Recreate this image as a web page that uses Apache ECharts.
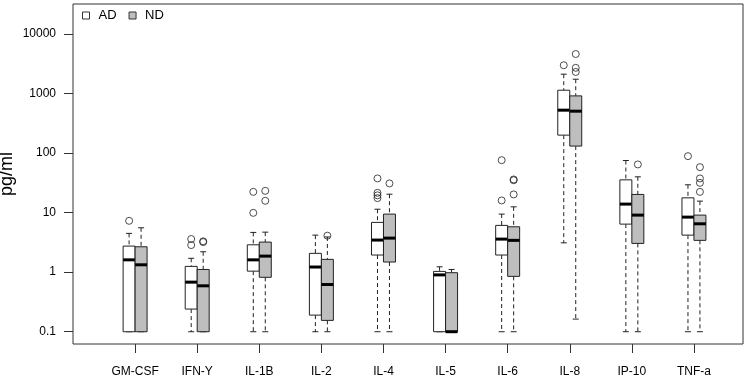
<!DOCTYPE html>
<html>
<head>
<meta charset="utf-8">
<script src="https://cdn.jsdelivr.net/npm/echarts@6/dist/echarts.min.js"></script>
<style>
html, body { margin: 0; padding: 0; background: #fff; }
#chart { width: 748px; height: 379px; }
</style>
</head>
<body>
<div id="chart"></div>
<script>
var categories = ['GM-CSF', 'IFN-Y', 'IL-1B', 'IL-2', 'IL-4', 'IL-5', 'IL-6', 'IL-8', 'IP-10', 'TNF-a'];

// [lower whisker, Q1, median, Q3, upper whisker]
var adStats = [
    [0.1, 0.1, 1.61, 2.74, 4.48],
    [0.1, 0.24, 0.68, 1.25, 1.71],
    [0.1, 1.04, 1.61, 2.88, 4.65],
    [0.1, 0.19, 1.22, 2.07, 4.19],
    [0.1, 1.94, 3.46, 6.85, 11.4],
    [0.1, 0.1, 0.90, 1.03, 1.23],
    [0.1, 1.94, 3.59, 6.1, 9.44],
    [3.11, 200, 525, 1136, 2110],
    [0.1, 6.41, 13.9, 35.5, 75],
    [0.1, 4.19, 8.4, 17.7, 29.3]
];
var ndStats = [
    [0.1, 0.1, 1.33, 2.67, 5.56],
    [0.1, 0.1, 0.59, 1.11, 2.2],
    [0.1, 0.82, 1.86, 3.2, 4.7],
    [0.1, 0.155, 0.62, 1.64, 3.9],
    [0.1, 1.48, 3.73, 9.44, 20.4],
    [0.1, 0.1, 0.1, 0.98, 1.11],
    [0.1, 0.85, 3.42, 5.78, 12.5],
    [0.163, 131, 505, 912, 1738],
    [0.1, 3.04, 9.08, 20.2, 39.9],
    [0.1, 3.42, 6.49, 9.08, 15.6]
];
// [category index, value]
var adOutliers = [
    [0, 7.28], [1, 3.6], [1, 2.85], [2, 22.3], [2, 9.9],
    [4, 37.5], [4, 21.5], [4, 19.5], [4, 17.5],
    [6, 76], [6, 16], [7, 2985], [9, 88.7]
];
var ndOutliers = [
    [1, 3.3], [1, 3.2], [2, 23.2], [2, 15.8], [3, 4.1], [4, 30.9],
    [6, 36], [6, 35], [6, 20.2], [7, 4600], [7, 2700], [7, 2300],
    [8, 64.4], [9, 58], [9, 37.5], [9, 31.6], [9, 22.3]
];
var yTicks = [0.1, 1, 10, 100, 1000, 10000];

var FONT = '"Liberation Sans", Arial, Helvetica, sans-serif';
var half = 0.193;   // width of one box, in category units
var lineCol = '#222';

function renderBox(side) {
    return function (params, api) {
        var x = api.value(0);
        var x0 = side < 0 ? x - half : x;
        var x1 = side < 0 ? x : x + half;
        var xc = (x0 + x1) / 2;
        var pLo = api.coord([xc, api.value(1)]);
        var pQ1 = api.coord([x0, api.value(2)]);
        var pMed = api.coord([x0, api.value(3)]);
        var pQ3 = api.coord([x1, api.value(4)]);
        var pHi = api.coord([xc, api.value(5)]);
        var left = pQ1[0], right = pQ3[0];
        var cap = (right - left) / 4;
        var dash = { stroke: lineCol, lineWidth: 1, lineDash: [4, 3] };
        var solid = { stroke: lineCol, lineWidth: 1 };
        return {
            type: 'group',
            children: [
                { type: 'line', shape: { x1: pHi[0], y1: pHi[1], x2: pHi[0], y2: pQ3[1] }, style: dash },
                { type: 'line', shape: { x1: pLo[0], y1: pQ1[1], x2: pLo[0], y2: pLo[1] }, style: dash },
                { type: 'line', shape: { x1: pHi[0] - cap, y1: pHi[1], x2: pHi[0] + cap, y2: pHi[1] }, style: solid },
                { type: 'line', shape: { x1: pLo[0] - cap, y1: pLo[1], x2: pLo[0] + cap, y2: pLo[1] }, style: solid },
                {
                    type: 'rect',
                    shape: { x: left, y: pQ3[1], width: right - left, height: pQ1[1] - pQ3[1] },
                    style: { fill: api.visual('color'), stroke: lineCol, lineWidth: 1 }
                },
                { type: 'line', shape: { x1: left, y1: pMed[1], x2: right, y2: pMed[1] }, style: { stroke: '#000', lineWidth: 3 } }
            ]
        };
    };
}

function boxData(stats) {
    return stats.map(function (s, i) { return [i + 1].concat(s); });
}
function outlierData(list, side) {
    return list.map(function (o) { return [o[0] + 1 + side * half / 2, o[1]]; });
}

var chart = echarts.init(document.getElementById('chart'));
chart.setOption({
    animation: false,
    textStyle: { fontFamily: FONT },
    grid: {
        left: 73, right: 5, top: 4, bottom: 35,
        outerBoundsMode: 'none', containLabel: false,
        show: true, borderColor: '#333', borderWidth: 1, backgroundColor: 'transparent'
    },
    legend: {
        left: 82, top: 9, padding: 0,
        itemWidth: 7, itemHeight: 7, itemGap: 12,
        icon: 'rect',
        textStyle: { fontSize: 13, color: '#000', fontFamily: FONT, padding: [0, 0, 0, 4] },
        data: [
            { name: 'AD', itemStyle: { color: '#fff', borderColor: '#333', borderWidth: 1 } },
            { name: 'ND', itemStyle: { color: '#bebebe', borderColor: '#333', borderWidth: 1 } }
        ]
    },
    xAxis: {
        type: 'value', min: 0, max: 10.79,
        axisLine: { show: false },
        splitLine: { show: false },
        axisTick: { show: true, length: 9, customValues: [1, 2, 3, 4, 5, 6, 7, 8, 9, 10], lineStyle: { color: '#333' } },
        axisLabel: {
            margin: 22, fontSize: 12, color: '#000', fontFamily: FONT,
            customValues: [1, 2, 3, 4, 5, 6, 7, 8, 9, 10],
            formatter: function (v) { return categories[Math.round(v) - 1] || ''; }
        }
    },
    yAxis: {
        type: 'log', logBase: 10, min: 0.0622, max: 31840,
        name: 'pg/ml', nameLocation: 'middle', nameGap: 57, nameMoveOverlap: false,
        nameTextStyle: { fontSize: 18, color: '#000', fontFamily: FONT },
        axisLine: { show: false },
        splitLine: { show: false },
        axisTick: { show: true, length: 9, customValues: yTicks, lineStyle: { color: '#333' } },
        axisLabel: {
            margin: 17, fontSize: 12, color: '#000', fontFamily: FONT,
            customValues: yTicks,
            formatter: function (v) { return String(+(+v).toPrecision(6)); }
        }
    },
    series: [
        {
            name: 'AD', type: 'custom', renderItem: renderBox(-1),
            itemStyle: { color: '#fff' },
            encode: { x: 0, y: [1, 2, 3, 4, 5] },
            data: boxData(adStats), z: 2
        },
        {
            name: 'ND', type: 'custom', renderItem: renderBox(1),
            itemStyle: { color: '#bebebe' },
            encode: { x: 0, y: [1, 2, 3, 4, 5] },
            data: boxData(ndStats), z: 2
        },
        {
            name: 'AD outliers', type: 'scatter', symbol: 'circle', symbolSize: 7,
            itemStyle: { color: 'transparent', borderColor: '#222', borderWidth: 1 },
            data: outlierData(adOutliers, -1), z: 3
        },
        {
            name: 'ND outliers', type: 'scatter', symbol: 'circle', symbolSize: 7,
            itemStyle: { color: 'transparent', borderColor: '#222', borderWidth: 1 },
            data: outlierData(ndOutliers, 1), z: 3
        }
    ]
});
</script>
</body>
</html>
